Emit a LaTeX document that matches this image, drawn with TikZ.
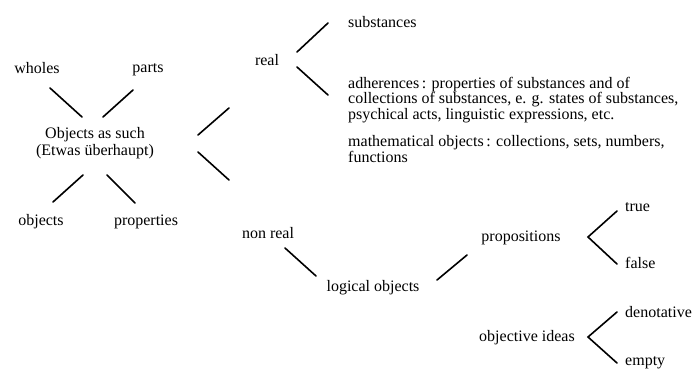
\documentclass[tikz,border=0pt]{standalone}
\usepackage{fontspec}
\setmainfont{LiberationSerif}[Extension=.ttf, UprightFont=*-Regular]
\tikzset{
  term/.style={inner sep=0pt, font=\rmfamily\fontsize{16}{15.5}\selectfont},
  branch/.style={line width=1.6pt, line cap=round}
}

\begin{document}
\begin{tikzpicture}[x=1pt, y=-1pt]
	\useasboundingbox (0,0) rectangle (694,369);
	% the left cross
	\node[term, align=center] (obj) at (95,143) {Objects as such\\[1pt](Etwas überhaupt)};
	\node[term] (wholes) at (37,68) {wholes};
	\node[term] (parts) at (148,70) {parts};
	\node[term] (objects) at (41,222) {objects};
	\node[term] (props) at (146,222) {properties};
	% real branch
	\node[term] (real) at (267,60) {real};
	\node[term, anchor=west] (subst) at (348,22) {substances};
	\node[term, anchor=west, align=left] (adher) at (348,100)
		{adherences\,: properties of substances and of\\
		 collections of substances, e. g. states of substances,\\
		 psychical acts, linguistic expressions, etc.};
	\node[term, anchor=west, align=left] (math) at (348,149)
		{mathematical objects\,: collections, sets, numbers,\\functions};
	% non real branch
	\node[term] (nonreal) at (268,233) {non real};
	\node[term] (logical) at (373,288) {logical objects};
	\node[term] (propos) at (521,238) {propositions};
	\node[term, anchor=west] (true) at (625,207) {true};
	\node[term, anchor=west] (false) at (625,263) {false};
	\node[term] (ideas) at (527,338) {objective ideas};
	\node[term, anchor=west] (denot) at (625,312) {denotative};
	\node[term, anchor=west] (empty) at (625,363) {empty};

	% free ends of the strokes
	\coordinate (wholes-s) at (50,88);   \coordinate (obj-nw) at (82,117);
	\coordinate (parts-s) at (133,90);   \coordinate (obj-ne) at (103,117);
	\coordinate (objects-n) at (53,202); \coordinate (obj-sw) at (83,175);
	\coordinate (props-n) at (135,203);  \coordinate (obj-se) at (107,175);
	\coordinate (obj-e1) at (198,135);   \coordinate (real-w) at (229,108);
	\coordinate (obj-e2) at (198,152);   \coordinate (nonreal-w) at (229,180);
	\coordinate (real-e1) at (297,52);   \coordinate (subst-w) at (328,23);
	\coordinate (real-e2) at (297,67);   \coordinate (adher-w) at (328,95);
	\coordinate (nonreal-s) at (285,248); \coordinate (logical-n) at (316,276);
	\coordinate (logical-e) at (437,280); \coordinate (propos-w) at (467,255);
	\coordinate (propos-e) at (588,237);
	\coordinate (true-w) at (617,211);   \coordinate (false-w) at (617,264);
	\coordinate (ideas-e) at (588,337);
	\coordinate (denot-w) at (617,312);  \coordinate (empty-w) at (617,363);

	\draw[branch] (wholes-s) -- (obj-nw);
	\draw[branch] (parts-s) -- (obj-ne);
	\draw[branch] (objects-n) -- (obj-sw);
	\draw[branch] (props-n) -- (obj-se);
	\draw[branch] (obj-e1) -- (real-w);
	\draw[branch] (obj-e2) -- (nonreal-w);
	\draw[branch] (real-e1) -- (subst-w);
	\draw[branch] (real-e2) -- (adher-w);
	\draw[branch] (nonreal-s) -- (logical-n);
	\draw[branch] (logical-e) -- (propos-w);
	\draw[branch] (true-w) -- (propos-e) -- (false-w);
	\draw[branch] (denot-w) -- (ideas-e) -- (empty-w);
\end{tikzpicture}
\end{document}
